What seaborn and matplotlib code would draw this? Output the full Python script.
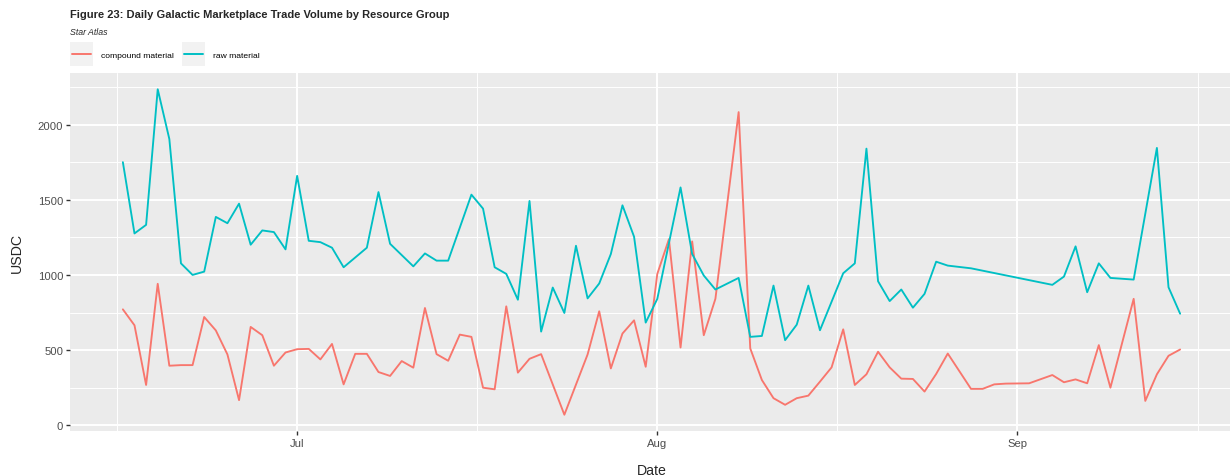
import numpy as np
import pandas as pd
import seaborn as sns
import matplotlib.dates as mdates
from matplotlib import pyplot as plt
from matplotlib.patches import Rectangle
from matplotlib.lines import Line2D

# day offsets from the first trading day
start = pd.Timestamp('2022-06-16')

compound_day = [0, 1, 2, 3, 4, 5, 6, 7, 8, 9, 10, 11, 12, 13, 14, 15, 16, 17, 18, 19,
                20, 21, 22, 23, 24, 25, 26, 27, 28, 29, 30, 31, 32, 33, 34, 35, 36, 38,
                40, 41, 42, 43, 44, 45, 46, 47, 48, 49, 50, 51, 53, 54, 55, 56, 57, 58,
                59, 60, 61, 62, 63, 64, 65, 66, 67, 68, 69, 70, 71, 73, 74, 75, 76, 78,
                80, 81, 82, 83, 84, 85, 87, 88, 89, 90, 91]
compound_usdc = [772, 666, 269, 942, 397, 401, 401, 721, 632, 472, 168, 655, 600, 397,
                 485, 507, 509, 439, 542, 273, 476, 476, 355, 329, 428, 384, 781, 474,
                 430, 604, 589, 251, 240, 792, 351, 443, 474, 71, 472, 759, 379, 611,
                 699, 390, 1008, 1239, 518, 1224, 600, 842, 2084, 512, 302, 181, 137,
                 181, 198, 291, 386, 639, 269, 340, 490, 386, 311, 309, 225, 342, 478,
                 243, 243, 273, 278, 280, 335, 287, 306, 280, 534, 251, 842, 163, 340,
                 463, 505]

raw_day = [0, 1, 2, 3, 4, 5, 6, 7, 8, 9, 10, 11, 12, 13, 14, 15, 16, 17, 18, 19, 21,
           22, 23, 25, 26, 27, 28, 30, 31, 32, 33, 34, 35, 36, 37, 38, 39, 40, 41, 42,
           43, 44, 45, 46, 48, 49, 50, 51, 53, 54, 55, 56, 57, 58, 59, 60, 62, 63, 64,
           65, 66, 67, 68, 69, 70, 71, 72, 73, 80, 81, 82, 83, 84, 85, 87, 89, 90, 91]
raw_usdc = [1751, 1277, 1334, 2236, 1905, 1078, 1001, 1023, 1387, 1345, 1475, 1202,
            1297, 1286, 1171, 1660, 1228, 1219, 1182, 1052, 1182, 1552, 1208, 1058,
            1144, 1096, 1096, 1535, 1442, 1052, 1008, 836, 1493, 624, 917, 748, 1195,
            845, 944, 1140, 1464, 1255, 684, 842, 1583, 1140, 997, 904, 981, 589, 595,
            930, 567, 670, 930, 633, 1012, 1078, 1841, 959, 827, 904, 783, 875, 1089,
            1063, 1054, 1045, 935, 990, 1191, 886, 1078, 981, 970, 1846, 919, 743]

groups = ['compound material', 'raw material']
colors = ['#F8766D', '#00BFC4']

df = pd.concat([
    pd.DataFrame({'Date': start + pd.to_timedelta(compound_day, unit='D'),
                  'USDC': compound_usdc, 'group': groups[0]}),
    pd.DataFrame({'Date': start + pd.to_timedelta(raw_day, unit='D'),
                  'USDC': raw_usdc, 'group': groups[1]}),
])

sns.set_style('darkgrid', {'axes.facecolor': '#EBEBEB', 'grid.color': 'white'})
plt.rcParams['font.family'] = ['Liberation Sans', 'DejaVu Sans']

W, H = 1230, 477
fig = plt.figure(figsize=(W / 100, H / 100), dpi=100)
ax = fig.add_axes([70 / W, 1 - 432 / H, 1163 / W, 358 / H])

sns.lineplot(data=df, x='Date', y='USDC', hue='group', hue_order=groups,
             palette=dict(zip(groups, colors)), linewidth=1.35, estimator=None,
             legend=False, ax=ax)

# ggplot-like limits: 5% expansion of the data range
x0, x1 = mdates.date2num(df['Date'].min()), mdates.date2num(df['Date'].max())
ax.set_xlim(x0 - 0.05 * (x1 - x0), x1 + 0.05 * (x1 - x0))
y0, y1 = df['USDC'].min(), df['USDC'].max()
ax.set_ylim(y0 - 0.05 * (y1 - y0), y1 + 0.05 * (y1 - y0))

majors = pd.to_datetime(['2022-07-01', '2022-08-01', '2022-09-01'])
minors = [majors[0] - pd.Timedelta(days=15.5)] + \
         [majors[i] + (majors[i + 1] - majors[i]) / 2 for i in range(len(majors) - 1)] + \
         [majors[-1] + pd.Timedelta(days=15.5)]
ax.set_xticks(mdates.date2num(majors))
ax.set_xticks(mdates.date2num(minors), minor=True)
ax.xaxis.set_major_formatter(mdates.DateFormatter('%b'))
ax.set_yticks(np.arange(0, 2001, 500))
ax.set_yticks(np.arange(250, 2300, 500), minor=True)

ax.grid(which='major', color='white', linewidth=1.4)
ax.grid(which='minor', color='white', linewidth=0.7)
ax.set_axisbelow(True)
for s in ax.spines.values():
    s.set_visible(False)
ax.tick_params(which='major', bottom=True, left=True, length=2.8, width=1.0, color='#333333',
               labelsize=8.1, labelcolor='#4D4D4D', pad=2)
ax.tick_params(which='minor', length=0)

ax.set_xlabel('Date', fontsize=10.2)
ax.set_ylabel('USDC', fontsize=10.2)
ax.xaxis.label.set_va('baseline')
ax.xaxis.set_label_coords(0.5, (432 - 475) / 358)
ax.yaxis.label.set_va('baseline')
ax.yaxis.set_label_coords((21 - 70) / 1163, 0.5)

fig.text(70 / W, 1 - 18.3 / H, 'Figure 23: Daily Galactic Marketplace Trade Volume by Resource Group',
         fontsize=8.0, fontweight='bold', va='baseline', ha='left')
fig.text(70 / W, 1 - 35 / H, 'Star Atlas', fontsize=6.3, style='italic', va='baseline', ha='left')

# legend in ggplot style: grey key boxes on a white strip
fig.add_artist(Rectangle((64 / W, 1 - 74 / H), 204 / W, 37 / H, transform=fig.transFigure,
                         facecolor='white', edgecolor='none'))
for kx, tx, g, c in zip([70, 181.7], [101, 212.7], groups, colors):
    fig.add_artist(Rectangle((kx / W, 1 - 66.7 / H), 23.3 / W, 23.4 / H, transform=fig.transFigure,
                             facecolor='#F2F2F2', edgecolor='none'))
    fig.add_artist(Line2D([(kx + 2.3) / W, (kx + 21) / W], [1 - 55.3 / H] * 2,
                          transform=fig.transFigure, color=c, linewidth=1.4))
    fig.text(tx / W, 1 - 56 / H, g, fontsize=6.1, va='center', ha='left', color='black')

fig.savefig('out.png', dpi=100)
